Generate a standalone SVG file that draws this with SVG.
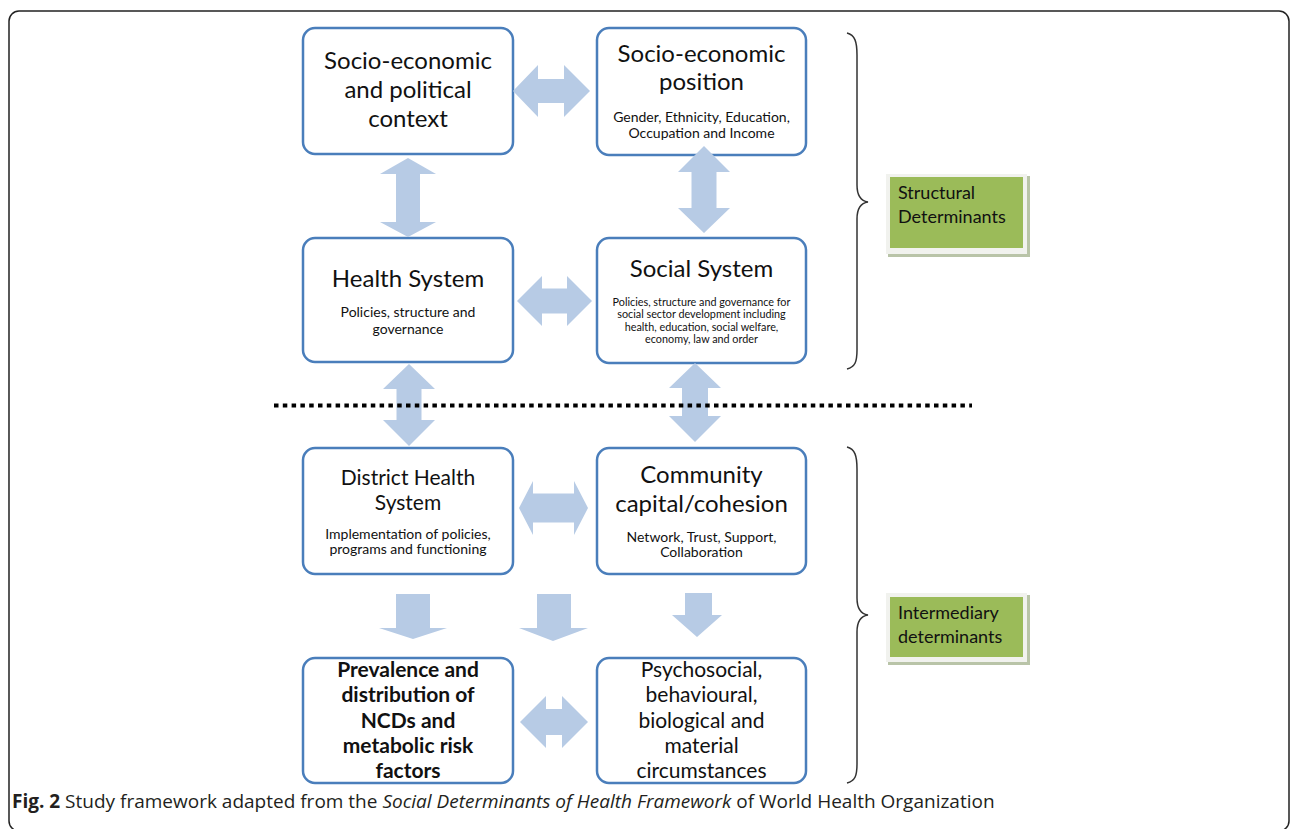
<svg xmlns="http://www.w3.org/2000/svg" width="1290" height="829" viewBox="0 0 1290 829">
<style>
.box{fill:#fff;stroke:#4A7EBB;stroke-width:2.5}
.arr{fill:#B7CBE5}
.t{font-family:Lato,"Open Sans","Liberation Sans",sans-serif;fill:#111;text-anchor:middle}
.big{font-size:24px}
.mid{font-size:21px}
.sm{font-size:14px}
.xs{font-size:10.8px}
.bold{font-weight:bold}
.lbl{font-family:Lato,"Open Sans","Liberation Sans",sans-serif;font-size:18px;fill:#111}
.brace{fill:none;stroke:#333;stroke-width:1.5}
.cap{font-family:"Open Sans","Liberation Sans",sans-serif;font-size:19px;fill:#231F20}
</style>
<rect x="0" y="0" width="1290" height="829" fill="#fff"/>
<rect x="9" y="11" width="1280" height="820" rx="10" fill="none" stroke="#222" stroke-width="1.5"/>

<g id="n1"><rect class="box" x="303" y="28" width="210" height="126" rx="12"/>
<text class="t big" x="408" y="69">Socio-economic</text>
<text class="t big" x="408" y="98">and political</text>
<text class="t big" x="408" y="127">context</text></g>

<g id="n2"><rect class="box" x="597" y="28" width="209" height="127" rx="12"/>
<text class="t big" x="701.5" y="62">Socio-economic</text>
<text class="t big" x="701.5" y="90">position</text>
<text class="t sm" x="701.5" y="122">Gender, Ethnicity, Education,</text>
<text class="t sm" x="701.5" y="138">Occupation and Income</text></g>

<g id="n3"><rect class="box" x="303" y="238" width="210" height="124" rx="12"/>
<text class="t big" x="408" y="287">Health System</text>
<text class="t sm" x="408" y="317">Policies,  structure and</text>
<text class="t sm" x="408" y="334">governance</text></g>

<g id="n4"><rect class="box" x="597" y="238" width="209" height="125" rx="12"/>
<text class="t big" x="701.5" y="277">Social System</text>
<text class="t xs" x="701.5" y="306">Policies,  structure and governance for</text>
<text class="t xs" x="701.5" y="318">social sector development including</text>
<text class="t xs" x="701.5" y="330.5">health, education, social welfare,</text>
<text class="t xs" x="701.5" y="343">economy, law and order</text></g>

<g id="n5"><rect class="box" x="303" y="448" width="210" height="126" rx="12"/>
<text class="t mid" x="408" y="485">District Health</text>
<text class="t mid" x="408" y="510">System</text>
<text class="t sm" x="408" y="539">Implementation of policies,</text>
<text class="t sm" x="408" y="554">programs and functioning</text></g>

<g id="n6"><rect class="box" x="597" y="448" width="209" height="126" rx="12"/>
<text class="t big" x="701.5" y="483">Community</text>
<text class="t big" x="701.5" y="512">capital/cohesion</text>
<text class="t sm" x="701.5" y="542">Network, Trust, Support,</text>
<text class="t sm" x="701.5" y="557">Collaboration</text></g>

<g id="n7"><rect class="box" x="303" y="658" width="210" height="125" rx="12"/>
<text class="t mid bold" x="408" y="677">Prevalence and</text>
<text class="t mid bold" x="408" y="702">distribution of</text>
<text class="t mid bold" x="408" y="728">NCDs and</text>
<text class="t mid bold" x="408" y="753">metabolic risk</text>
<text class="t mid bold" x="408" y="778">factors</text></g>

<g id="n8"><rect class="box" x="597" y="658" width="209" height="125" rx="12"/>
<text class="t mid" x="701.5" y="677">Psychosocial,</text>
<text class="t mid" x="701.5" y="702">behavioural,</text>
<text class="t mid" x="701.5" y="728">biological and</text>
<text class="t mid" x="701.5" y="753">material</text>
<text class="t mid" x="701.5" y="778">circumstances</text></g>

<g id="connectors">
<polygon class="arr" points="513,91 538,65 538,79 564,79 564,65 590,91 564,117 564,103 538,103 538,117"/>
<polygon class="arr" points="517,301 542,276 542,288.5 567,288.5 567,276 592,301 567,326 567,313.5 542,313.5 542,326"/>
<polygon class="arr" points="519,508 533,481 533,493.5 574,493.5 574,481 588,508 574,535 574,522.5 533,522.5 533,535"/>
<polygon class="arr" points="520,722 546,696 546,709 562,709 562,696 588,722 562,748 562,735 546,735 546,748"/>
<polygon class="arr" points="408,158 436,174 420,174 420,222 436,222 408,237 380,222 396,222 396,174 380,174"/>
<polygon class="arr" points="704,146 730,172 716.5,172 716.5,208 730,208 704,233 678,208 691.5,208 691.5,172 678,172"/>
<polygon class="arr" points="409,364 435,389 421.5,389 421.5,420 435,420 409,446 383,420 396.5,420 396.5,389 383,389"/>
<polygon class="arr" points="695,363 721,388 708,388 708,416 721,416 695,442 669,416 682,416 682,388 669,388"/>
<polygon class="arr" points="396,594 430,594 430,628 447,628 413,639 379,628 396,628"/>
<polygon class="arr" points="537,594 571,594 571,628 588,628 553,641 519,628 537,628"/>
<polygon class="arr" points="685,593 712,593 712,615 722,615 697,637 672,615 685,615"/>
</g>

<line x1="274" y1="405.5" x2="972" y2="405.5" stroke="#000" stroke-width="4" stroke-dasharray="4.5 4.3"/>

<g id="braces">
<path class="brace" d="M847,33 C855,35 857,42 857,55 L857,185 C857,196 861,201 868,202 C861,203 857,208 857,219 L857,350 C857,362 855,367 847,369"/>
<path class="brace" d="M847,447 C855,449 857,456 857,469 L857,598 C857,609 861,614 868,615 C861,616 857,621 857,632 L857,764 C857,776 855,781 847,783"/>
</g>

<g id="lbl1">
<rect x="888" y="176" width="142" height="81" fill="#B9C4A8"/>
<rect x="886" y="174" width="141" height="80" fill="#F1F2EE"/>
<rect x="890" y="177" width="133" height="71" fill="#9BBB59"/>
<text class="lbl" x="898" y="199">Structural</text>
<text class="lbl" x="898" y="223">Determinants</text>
</g>
<g id="lbl2">
<rect x="888" y="595" width="142" height="70" fill="#B9C4A8"/>
<rect x="886" y="593" width="141" height="69" fill="#F1F2EE"/>
<rect x="890" y="597" width="133" height="60" fill="#9BBB59"/>
<text class="lbl" x="898" y="619">Intermediary</text>
<text class="lbl" x="898" y="643">determinants</text>
</g>

<text class="cap" x="12" y="808"><tspan font-weight="bold">Fig. 2</tspan> Study framework adapted from the <tspan font-style="italic">Social Determinants of Health Framework</tspan> of World Health Organization</text>
</svg>
